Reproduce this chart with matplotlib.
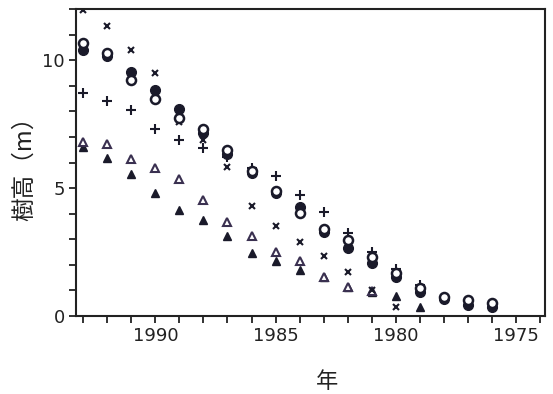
import matplotlib
matplotlib.use('Agg')
from matplotlib import pyplot as plt
from matplotlib.ticker import MultipleLocator

plt.rcParams['font.family'] = ['Liberation Sans Narrow', 'DejaVu Sans']

# 年ごとの樹高 (m)
years_circle = [1993, 1992, 1991, 1990, 1989, 1988, 1987, 1986, 1985, 1984, 1983, 1982, 1981, 1980, 1979, 1978, 1977, 1976]
filled_circle = [10.4, 10.15, 9.54, 8.85, 8.11, 7.16, 6.35, 5.58, 4.82, 4.27, 3.3, 2.64, 2.08, 1.54, 0.95, 0.65, 0.43, 0.34]
open_circle = [10.66, 10.3, 9.24, 8.5, 7.75, 7.33, 6.5, 5.66, 4.88, 4.01, 3.4, 2.97, 2.29, 1.67, 1.08, 0.75, 0.62, 0.52]

years_cross = [1993, 1992, 1991, 1990, 1989, 1988, 1987, 1986, 1985, 1984, 1983, 1982, 1981, 1980]
cross = [11.95, 11.33, 10.4, 9.5, 7.6, 6.9, 5.83, 4.31, 3.53, 2.91, 2.34, 1.71, 1.0, 0.36]

years_plus = [1993, 1992, 1991, 1990, 1989, 1988, 1987, 1986, 1985, 1984, 1983, 1982, 1981, 1980, 1979]
plus = [8.72, 8.4, 8.05, 7.33, 6.88, 6.58, 6.2, 5.8, 5.46, 4.73, 4.08, 3.24, 2.51, 1.83, 1.21]

years_otri = [1993, 1992, 1991, 1990, 1989, 1988, 1987, 1986, 1985, 1984, 1983, 1982, 1981]
open_tri = [6.8, 6.74, 6.13, 5.8, 5.34, 4.53, 3.66, 3.13, 2.52, 2.15, 1.54, 1.15, 0.98]

years_ftri = [1993, 1992, 1991, 1990, 1989, 1988, 1987, 1986, 1985, 1984, 1983, 1982, 1981, 1980, 1979]
filled_tri = [6.6, 6.16, 5.57, 4.79, 4.14, 3.75, 3.13, 2.45, 2.16, 1.8, 1.54, 1.12, 0.95, 0.78, 0.34]

fig = plt.figure(figsize=(5.53, 3.94), dpi=100)
ax = fig.add_axes([0.1374, 0.198, 0.848, 0.779])

c = '#1a1a2a'
ax.plot(years_ftri, filled_tri, '^', color=c, markersize=6, linestyle='none')
ax.plot(years_otri, open_tri, '^', markerfacecolor='white', markeredgecolor='#3a3050',
        markeredgewidth=1.5, markersize=6, linestyle='none')
ax.plot(years_cross, cross, 'x', color=c, markersize=4.5, markeredgewidth=1.5, linestyle='none')
ax.plot(years_plus, plus, '+', color=c, markersize=7, markeredgewidth=1.5, linestyle='none')
ax.plot(years_circle, filled_circle, 'o', color=c, markersize=7, linestyle='none')
ax.plot(years_circle, open_circle, 'o', markerfacecolor='white', markeredgecolor=c,
        markeredgewidth=1.8, markersize=6.5, linestyle='none')

ax.set_xlim(1993.3, 1973.8)
ax.set_ylim(0, 12)

ax.xaxis.set_major_locator(MultipleLocator(5))
ax.xaxis.set_minor_locator(MultipleLocator(1))
ax.yaxis.set_major_locator(MultipleLocator(5))
ax.yaxis.set_minor_locator(MultipleLocator(1))
ax.tick_params(which='both', direction='out', length=5, width=1.3, color='#222')
ax.tick_params(which='major', labelsize=13, labelcolor='#222', pad=3)

for sp in ax.spines.values():
    sp.set_linewidth(1.5)
    sp.set_color('#222')

ax.set_ylabel('樹高（m）', fontsize=17, family=['Noto Sans CJK JP', 'DejaVu Sans'], color='#222')
ax.yaxis.set_label_coords(-0.085, 0.5)
ax.set_xlabel('年', fontsize=16, family=['Noto Sans CJK JP', 'DejaVu Sans'], color='#222')
ax.xaxis.set_label_coords(0.535, -0.175)

plt.savefig('out.png', dpi=100)
